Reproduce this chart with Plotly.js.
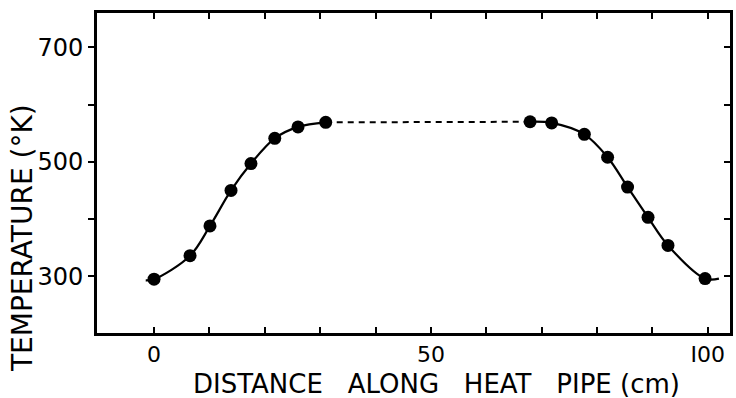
<!DOCTYPE html>
<html>
<head>
<meta charset="utf-8">
<script src="https://cdn.plot.ly/plotly-3.0.1.min.js"></script>
<style>html,body{margin:0;padding:0;background:#fff;}#chart{width:736px;height:398px;}</style>
</head>
<body>
<div id="chart"></div>
<script>
// Measured points (distance cm, temperature K)
const leftX  = [0, 6.5, 10.1, 13.9, 17.5, 21.8, 26.0, 31.0];
const leftY  = [295, 336, 388, 450, 497, 541, 561, 569];
const rightX = [67.9, 71.8, 77.7, 81.9, 85.5, 89.2, 92.8, 99.5];
const rightY = [570, 568, 548, 508, 456, 403, 354, 296];
// curve tails beyond the end points
const leftTailX = [-1.5];  const leftTailY = [293];
const rightTailX = [102];  const rightTailY = [296];
// dashed connection across the middle
const gapX = [31.0, 67.9];
const gapY = [569, 570];

const xTicks = [0,10,20,30,40,50,60,70,80,90,100];
const xTickText = ['0','','','','','50','','','','','I00'];
const yTicks = [300,400,500,600,700];
const yTickText = ['300','','500','','700'];

const font = 'DejaVu Sans, Liberation Sans, sans-serif';

const traces = [
  {x: leftTailX.concat(leftX), y: leftTailY.concat(leftY), mode:'lines', line:{color:'#000', width:2.2, shape:'spline', smoothing:1}, hoverinfo:'skip'},
  {x: rightX.concat(rightTailX), y: rightY.concat(rightTailY), mode:'lines', line:{color:'#000', width:2.2, shape:'spline', smoothing:1}, hoverinfo:'skip'},
  {x: gapX, y: gapY, mode:'lines', line:{color:'#000', width:2, dash:'6px,5px'}, hoverinfo:'skip'},
  {x: leftX.concat(rightX), y: leftY.concat(rightY), mode:'markers', marker:{color:'#000', size:13}},
  // dummy trace for the mirrored right axis
  {x: [0], y: [300], yaxis:'y2', xaxis:'x2', mode:'markers', marker:{opacity:0}, hoverinfo:'skip'}
];

const layout = {
  width: 736, height: 398,
  margin: {l:97, r:6, t:13, b:65},
  paper_bgcolor:'#fff', plot_bgcolor:'#fff',
  showlegend:false,
  font:{family:font, color:'#000'},
  xaxis: {
    range:[-10.3, 104], tickmode:'array', tickvals:xTicks, ticktext:xTickText,
    ticks:'inside', ticklen:6, tickwidth:2, tickcolor:'#000',
    showline:true, linewidth:3, linecolor:'#000', mirror:'ticks',
    showgrid:false, zeroline:false,
    tickfont:{size:22, family:font}, ticklabelstandoff:0
  },
  xaxis2: {overlaying:'x', range:[-10.3,104], visible:false},
  yaxis: {
    range:[201, 760], tickmode:'array', tickvals:yTicks, ticktext:yTickText,
    ticks:'outside', ticklen:6, tickwidth:2, tickcolor:'#000',
    showline:true, linewidth:3, linecolor:'#000',
    showgrid:false, zeroline:false,
    tickfont:{size:24, family:font}
  },
  yaxis2: {
    overlaying:'y', side:'right', range:[201,760], tickmode:'array', tickvals:yTicks,
    showticklabels:false, ticks:'inside', ticklen:6, tickwidth:2, tickcolor:'#000',
    showline:true, linewidth:3, linecolor:'#000', showgrid:false, zeroline:false
  },
  annotations: [
    {text:'DISTANCE   ALONG   HEAT   PIPE (cm)', xref:'paper', yref:'paper',
     x:(436-97)/633, y:-(384-333)/320, xanchor:'center', yanchor:'middle', showarrow:false,
     font:{size:26, family:font, color:'#000'}},
    {text:'TEMPERATURE (°K)', xref:'paper', yref:'paper', textangle:-90,
     x:-(97-22)/633, y:(333-238)/320, xanchor:'center', yanchor:'middle', showarrow:false,
     font:{size:28, family:font, color:'#000'}}
  ]
};

Plotly.newPlot('chart', traces, layout, {staticPlot:true, displayModeBar:false});
</script>
</body>
</html>
